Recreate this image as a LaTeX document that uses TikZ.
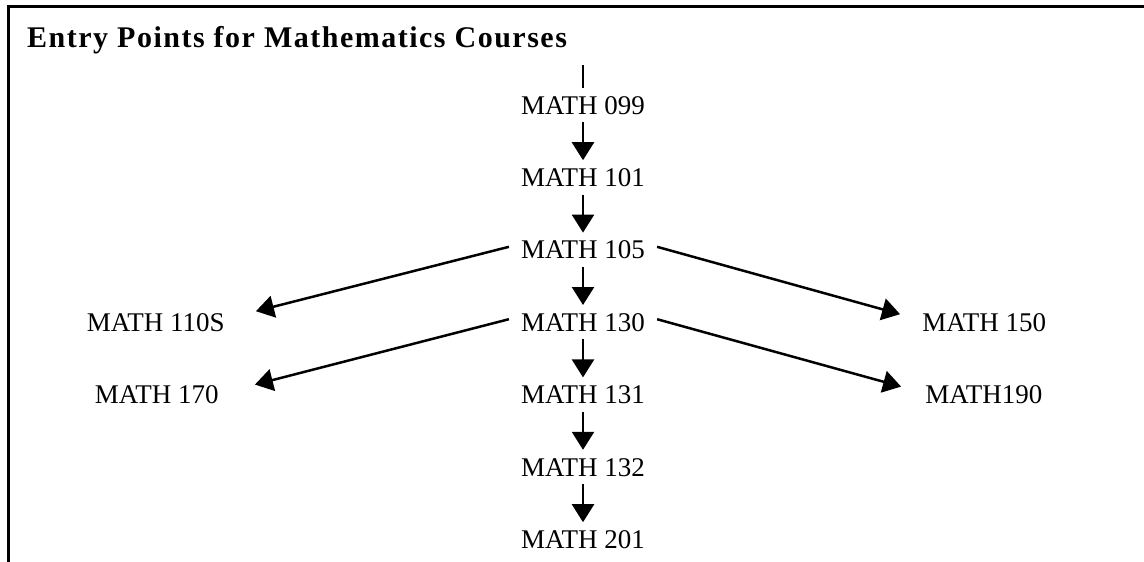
\documentclass[tikz,border=0pt]{standalone}
\usepackage{fontspec}
\setmainfont{Liberation Serif}
\usetikzlibrary{arrows.meta,positioning}
\tikzset{
  course/.style={font=\fontsize{27}{32}\selectfont,text height=18pt,text depth=0pt,inner xsep=12pt,inner ysep=8pt},
  heading/.style={font=\fontsize{30}{34}\selectfont\bfseries\addfontfeatures{LetterSpace=5},inner sep=0pt,anchor=base west},
  arrow/.style={-{Triangle[length=18pt,width=22pt]},line width=2.5pt},
  stem/.style={line width=2.5pt},
}

\begin{document}
\begin{tikzpicture}[x=1pt,y=-1pt,node distance=38pt]
  \useasboundingbox (0,0) rectangle (1144,562);
  % cell border
  \draw[line width=3pt] (8,562) -- (8,6) -- (1144,6);
  \node[heading] (title) at (27,47) {Entry Points for Mathematics Courses};

  % main sequence
  \node[course] (m099) at (583,105) {MATH 099};
  \node[course, below=of m099] (m101) {MATH 101};
  \node[course, below=of m101] (m105) {MATH 105};
  \node[course, below=of m105] (m130) {MATH 130};
  \node[course, below=of m130] (m131) {MATH 131};
  \node[course, below=of m131] (m132) {MATH 132};
  \node[course, below=of m132] (m201) {MATH 201};

  % side entries
  \node[course, left=272pt of m130] (m110s) {MATH 110S};
  \node[course, left=278pt of m131] (m170) {MATH 170};
  \node[course, right=253pt of m130] (m150) {MATH 150};
  \node[course, right=256pt of m131] (m190) {MATH190};

  \coordinate (entry) at (583,65);

  % arrows
  \draw[stem] (entry) -- (m099);
  \draw[arrow] (m099) -- (m101);
  \draw[arrow] (m101) -- (m105);
  \draw[arrow] (m105) -- (m130);
  \draw[arrow] (m130) -- (m131);
  \draw[arrow] (m131) -- (m132);
  \draw[arrow] (m132) -- (m201);

  \draw[arrow] ([yshift=3pt]m105.west) -- ([xshift=19pt,yshift=11pt]m110s.east);
  \draw[arrow] ([yshift=3pt]m130.west) -- ([xshift=24pt,yshift=10pt]m170.east);
  \draw[arrow] ([yshift=3pt]m105.east) -- ([xshift=-10pt,yshift=8pt]m150.west);
  \draw[arrow] ([yshift=3pt]m130.east) -- ([xshift=-12pt,yshift=8pt]m190.west);
\end{tikzpicture}
\end{document}
